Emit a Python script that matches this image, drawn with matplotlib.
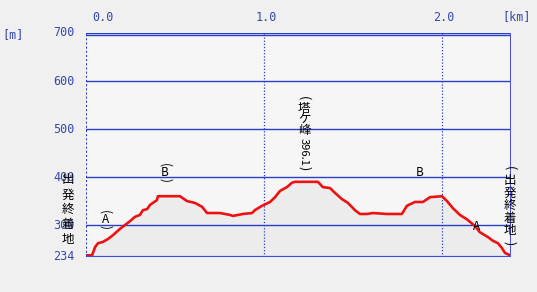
import matplotlib
matplotlib.use("Agg")
import matplotlib.pyplot as plt
from matplotlib.transforms import offset_copy

# ---- data ----
dist_km = [0.00, 0.034, 0.051, 0.067, 0.096, 0.124, 0.152, 0.191, 0.219, 0.247,
           0.275, 0.303, 0.320, 0.343, 0.360, 0.399, 0.404, 0.528, 0.567, 0.612,
           0.652, 0.680, 0.753, 0.809, 0.826, 0.882, 0.933, 0.949, 0.989, 1.034,
           1.062, 1.090, 1.129, 1.157, 1.174, 1.303, 1.331, 1.371, 1.399, 1.438,
           1.472, 1.511, 1.539, 1.579, 1.612, 1.691, 1.775, 1.803, 1.848, 1.893,
           1.933, 2.000, 2.028, 2.062, 2.101, 2.140, 2.185, 2.213, 2.258, 2.287,
           2.315, 2.337, 2.354, 2.382]
elev_m = [237, 237, 254, 262, 265, 271, 279, 292, 300, 308,
          317, 321, 331, 333, 342, 352, 360, 360, 350, 346,
          338, 325, 325, 321, 319, 323, 325, 331, 340, 348,
          358, 371, 379, 388, 390, 390, 379, 377, 367, 354,
          346, 331, 323, 323, 325, 323, 323, 340, 348, 348,
          358, 360, 350, 335, 321, 312, 298, 285, 275, 267,
          262, 252, 242, 237]

y_ticks = [700, 600, 500, 400, 300, 234]
y_grid = [300, 400, 500, 600]
x_ticks = [0.0, 1.0, 2.0]
x_max = 2.388
y_min, y_max = 234, 700

# vertical labels; a piece ending in "r" is turned 90 degrees
start_name = ["出", "発", "終", "着", "地"]
end_name = ["(r", "出", "発", "終", "着", "地", ")r"]
peak_name = ["(r", "塔", "ケ", "峰", "396.1r", ")r"]
# point labels: (text, km, m)
marks = [("A", 0.107, 312), ("B", 0.444, 410)]
plain_marks = [("B", 1.876, 410), ("A", 2.197, 296)]

BLUE = "#2a3fc8"
TXT = "#3848a8"
BG = "#f0f0f0"
JP = ["Noto Sans CJK JP", "DejaVu Sans"]

fig = plt.figure(figsize=(5.37, 2.92), dpi=100, facecolor=BG)
W, H = 537, 292
ax = fig.add_axes([86 / W, (H - 256.7) / H, (511 - 86) / W, (256.7 - 33) / H])
ax.set_facecolor("#f6f6f6")
ax.set_xlim(0, x_max)
ax.set_ylim(y_min, y_max)

ax.fill_between(dist_km, elev_m, y_min, color="#ececec", zorder=1)
for g in y_grid:
    ax.axhline(g, color=BLUE, lw=1.0, zorder=2)
for g in x_ticks[1:]:
    ax.axvline(g, color=BLUE, lw=0.9, ls=(0, (1, 1.5)), zorder=2)
ax.plot(dist_km, elev_m, color="#ee1111", lw=1.9, zorder=4, solid_joinstyle="round")

# frame
for s in ax.spines.values():
    s.set_visible(False)
ax.axhline(y_max, color=BLUE, lw=1.0, zorder=5)
ax.plot([0, x_max], [y_max, y_max], color=BLUE, lw=1.0, zorder=5,
        transform=offset_copy(ax.transData, fig=fig, y=-1.5, units="points"))
ax.axhline(y_min, color="#3a4ee0", lw=1.6, zorder=5)
ax.axvline(0, color=BLUE, lw=1.5, ls=(0, (1, 1)), zorder=5)
ax.axvline(x_max, color="#5050d8", lw=1.5, zorder=5)
ax.set_xticks([])
ax.set_yticks([])

# tick labels
for v in y_ticks:
    ax.annotate(str(v), (0, v), xytext=(-8, 0), textcoords="offset points",
                ha="right", va="center", fontsize=8.5, color=TXT,
                family="DejaVu Sans Mono", annotation_clip=False)
for v in x_ticks:
    dx = 12 if v == 0 else 1.5
    ax.annotate(f"{v:.1f}", (v, y_max), xytext=(dx, 11), textcoords="offset points",
                ha="center", va="center", fontsize=8.5, color=TXT,
                family="DejaVu Sans Mono", annotation_clip=False)
fig.text(13 / W, 1 - 35 / H, "[m]", ha="center", va="center", fontsize=8.5,
         color=TXT, family="DejaVu Sans Mono")
fig.text(517 / W, 1 - 17 / H, "[km]", ha="center", va="center", fontsize=8.5,
         color=TXT, family="DejaVu Sans Mono")


def vlabel(pieces, x, y, offsets, size=9):
    # offsets are pixels down from the first piece
    for p, off in zip(pieces, offsets):
        if p.endswith("r"):
            txt, rot = p[:-1], -90
        else:
            txt, rot = p, 0
        fs = size - 1 if len(txt) > 1 else size
        ax.annotate(txt, (x, y), xytext=(0, -off * 0.72), textcoords="offset points",
                    ha="center", va="center", fontsize=fs, family=JP,
                    rotation=rot, rotation_mode="anchor", zorder=6,
                    annotation_clip=False)


vlabel(start_name, -0.101, 394, [0, 15, 30, 45, 60])
vlabel(end_name, 2.382, 418, [0, 12.5, 25, 37.5, 50, 62.5, 75])
vlabel(peak_name, 1.225, 565, [0, 10.5, 21.5, 32.5, 54, 70])

for t, x, y in marks:
    vlabel(["(r", t, ")r"], x, y + 16, [0, 7.5, 15], size=8.5)
for t, x, y in plain_marks:
    ax.text(x, y, t, ha="center", va="center", fontsize=8.5, family=JP, zorder=6)

fig.savefig("out.png", dpi=100, facecolor=BG)
